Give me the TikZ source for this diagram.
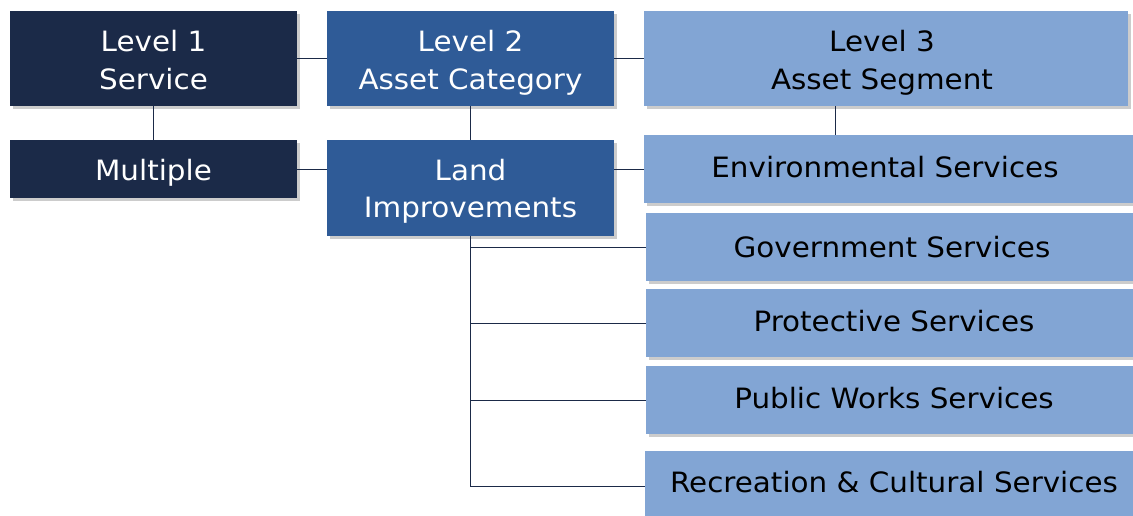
\documentclass[tikz,border=0pt]{standalone}
\usepackage{fontspec}
\setmainfont{DejaVu Sans}[FakeStretch=1.05]
\usetikzlibrary{shadows}
\definecolor{navy}{HTML}{1B2A48}
\definecolor{midblue}{HTML}{2F5B97}
\definecolor{lightblue}{HTML}{82A5D4}
\definecolor{linec}{HTML}{1B2A48}
\tikzset{
  box/.style={anchor=north west, inner sep=0pt,
    drop shadow={fill=black, opacity=0.2, shadow xshift=3pt, shadow yshift=-3pt}},
  lvone/.style={box, fill=navy},
  lvtwo/.style={box, fill=midblue},
  lvthree/.style={box, fill=lightblue},
  txt/.style={anchor=base, inner sep=0pt, font=\fontsize{28}{34}\selectfont},
  wtxt/.style={txt, text=white},
  btxt/.style={txt, text=black},
  conn/.style={draw=linec, line width=0.9pt}
}
\begin{document}
\begin{tikzpicture}[x=1pt, y=-1pt]
\useasboundingbox[fill=white] (0,0) rectangle (1133,516);
% Level 1 column
\node[lvone, minimum width=287pt, minimum height=95pt] (l1) at (10,11) {};
\node[lvone, minimum width=287pt, minimum height=58pt] (mult) at (10,140) {};
% Level 2 column
\node[lvtwo, minimum width=287pt, minimum height=95pt] (l2) at (327,11) {};
\node[lvtwo, minimum width=287pt, minimum height=96pt] (land) at (327,140) {};
% Level 3 column
\node[lvthree, minimum width=484pt, minimum height=95pt] (l3) at (644,11) {};
\node[lvthree, minimum width=489pt, minimum height=68pt] (env) at (644,135) {};
\node[lvthree, minimum width=487pt, minimum height=68pt] (gov) at (646,213) {};
\node[lvthree, minimum width=487pt, minimum height=68pt] (prot) at (646,289) {};
\node[lvthree, minimum width=487pt, minimum height=68pt] (pub) at (646,366) {};
\node[lvthree, minimum width=488pt, minimum height=68pt] (rec) at (645,451) {};
% texts
\node[wtxt] (t1a) at (153.5,52) {Level 1};
\node[wtxt] (t1b) at (153.5,90) {Service};
\node[wtxt] (tm) at (153.5,180) {Multiple};
\node[wtxt] (t2a) at (470.5,52) {Level 2};
\node[wtxt] (t2b) at (470.5,90) {Asset Category};
\node[wtxt] (tla) at (470.5,180) {Land};
\node[wtxt] (tlb) at (470.5,218) {Improvements};
\node[btxt] (t3a) at (882,52) {Level 3};
\node[btxt] (t3b) at (882,90) {Asset Segment};
\node[btxt] (tenv) at (885,178) {Environmental Services};
\node[btxt] (tgov) at (892,257) {Government Services};
\node[btxt] (tprot) at (894,331) {Protective Services};
\node[btxt] (tpub) at (894,408) {Public Works Services};
\node[btxt] (trec) at (894,492) {Recreation \& Cultural Services};
% connectors
\draw[conn] (l1.east) -- (l2.west);
\draw[conn] (l2.east) -- (l2.east -| l3.west);
\draw[conn] (l1.south) -- (mult.north);
\draw[conn] (l2.south) -- (land.north);
\coordinate (l3x) at (835,0);
\draw[conn] (l3.south -| l3x) -- (env.north -| l3x);
\draw[conn] (mult.east) -- (mult.east -| land.west);
\draw[conn] (env.west -| land.east) -- (env.west);
\draw[conn] (land.south) |- ([yshift=-1.5pt]rec.west);
\draw[conn] (land.south |- gov.west) -- (gov.west);
\draw[conn] (land.south |- prot.west) -- (prot.west);
\draw[conn] (land.south |- pub.west) -- (pub.west);
\end{tikzpicture}
\end{document}
